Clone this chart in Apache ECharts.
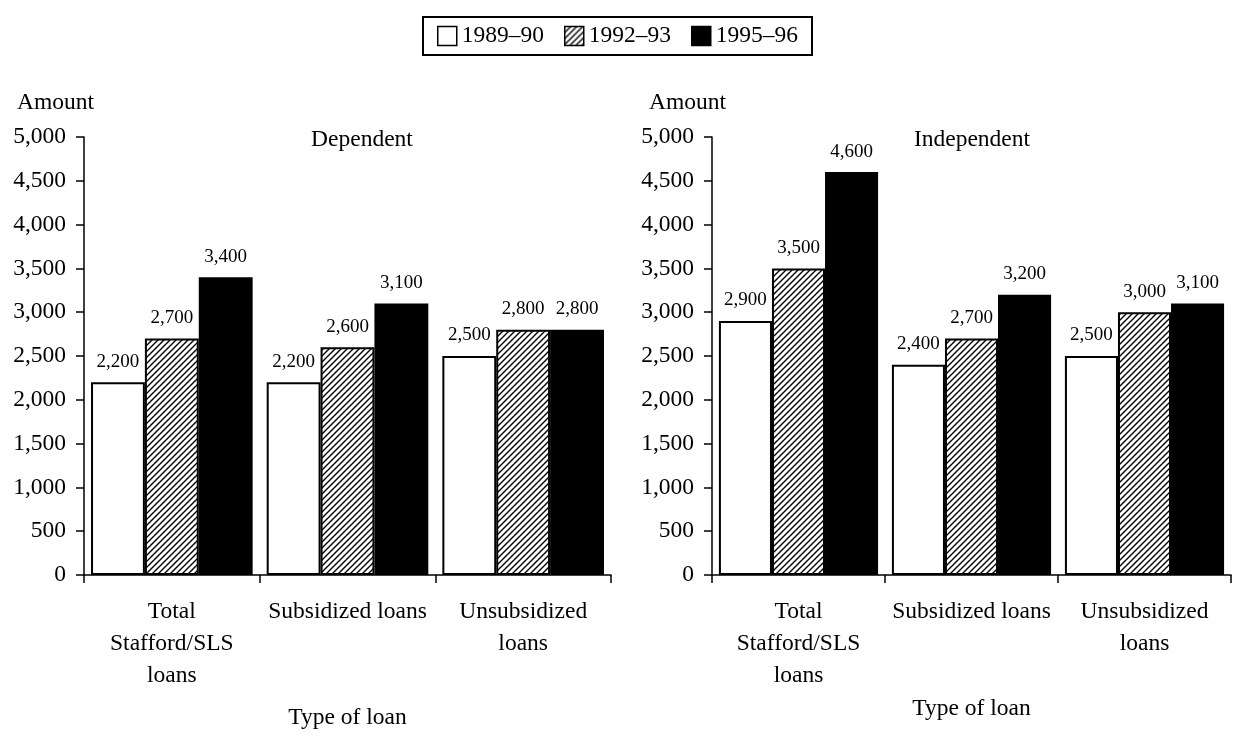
<!DOCTYPE html>
<html>
<head>
<meta charset="utf-8">
<script src="https://cdn.jsdelivr.net/npm/echarts@6/dist/echarts.min.js"></script>
<style>
  html, body { margin: 0; padding: 0; background: #fff; }
  #chart { width: 1235px; height: 747px; }
</style>
</head>
<body>
<div id="chart"></div>
<script>
  // categories and values
  var categories = ['Total\nStafford/SLS\nloans', 'Subsidized loans', 'Unsubsidized\nloans'];
  var years = ['1989\u201390', '1992\u201393', '1995\u201396'];
  var dep8990 = [2200, 2200, 2500];
  var dep9293 = [2700, 2600, 2800];
  var dep9596 = [3400, 3100, 2800];
  var ind8990 = [2900, 2400, 2500];
  var ind9293 = [3500, 2700, 3000];
  var ind9596 = [4600, 3200, 3100];
  var yTicks = [0, 500, 1000, 1500, 2000, 2500, 3000, 3500, 4000, 4500, 5000];

  var font = "'Liberation Serif', 'Times New Roman', serif";
  var fs = 23.5;

  // hatch pattern for the middle series
  function hatch() {
    var c = document.createElement('canvas');
    c.width = 6; c.height = 6;
    var ctx = c.getContext('2d');
    ctx.fillStyle = '#fff';
    ctx.fillRect(0, 0, 6, 6);
    ctx.strokeStyle = '#000';
    ctx.lineWidth = 1.4;
    ctx.beginPath();
    ctx.moveTo(-1, 7); ctx.lineTo(7, -1);
    ctx.moveTo(-1, 1); ctx.lineTo(1, -1);
    ctx.moveTo(5, 7); ctx.lineTo(7, 5);
    ctx.stroke();
    return c;
  }
  var fills = ['#fff', { image: hatch(), repeat: 'repeat' }, '#000'];

  function fmt(v) { return Number(v).toLocaleString('en-US'); }

  function xAxis(idx, nameGap) {
    return {
      type: 'category', gridIndex: idx, data: categories,
      name: 'Type of loan', nameLocation: 'middle', nameGap: nameGap,
      nameTextStyle: { fontFamily: font, fontSize: fs, color: '#000' },
      axisLine: { lineStyle: { color: '#000', width: 1.5 } },
      axisTick: { show: true, length: 8, lineStyle: { color: '#000', width: 1.5 } },
      axisLabel: { fontFamily: font, fontSize: fs, color: '#000', lineHeight: 32, margin: 21, interval: 0 }
    };
  }
  function yAxis(idx) {
    return {
      type: 'value', gridIndex: idx, min: yTicks[0], max: yTicks[yTicks.length - 1], interval: yTicks[1] - yTicks[0],
      axisLine: { show: true, lineStyle: { color: '#000', width: 1.5 } },
      axisTick: { show: true, length: 8, lineStyle: { color: '#000', width: 1.5 } },
      splitLine: { show: false },
      axisLabel: { fontFamily: font, fontSize: fs, color: '#000', margin: 18, formatter: fmt }
    };
  }
  function bar(name, data, idx, k) {
    return {
      name: name, type: 'bar', data: data,
      xAxisIndex: idx, yAxisIndex: idx,
      barGap: '0%', barCategoryGap: '8%',
      itemStyle: { color: fills[k], borderColor: '#000', borderWidth: 2 },
      label: {
        show: true, position: 'top', distance: 11,
        fontFamily: font, fontSize: 19, color: '#000',
        formatter: function (p) { return fmt(p.value); }
      }
    };
  }

  var titleStyle = { fontFamily: font, fontSize: fs, fontWeight: 'normal', color: '#000' };

  var myChart = echarts.init(document.getElementById('chart'));
  myChart.setOption({
    animation: false,
    backgroundColor: '#fff',
    title: [
      { text: 'Dependent', left: 357, top: 123, textAlign: 'center', textStyle: titleStyle },
      { text: 'Independent', left: 967, top: 123, textAlign: 'center', textStyle: titleStyle },
      { text: 'Amount', left: 12, top: 86, textStyle: titleStyle },
      { text: 'Amount', left: 644, top: 86, textStyle: titleStyle }
    ],
    legend: {
      top: 17, left: 'center',
      data: years,
      itemWidth: 19, itemHeight: 19, itemGap: 20,
      padding: [7, 14],
      borderColor: '#000', borderWidth: 2,
      textStyle: { fontFamily: font, fontSize: fs, color: '#000' },
      icon: 'rect',
      itemStyle: { borderColor: '#000', borderWidth: 1.5 }
    },
    grid: [
      { left: 84, top: 137, width: 527, height: 438 },
      { left: 712, top: 137, width: 519, height: 438 }
    ],
    xAxis: [xAxis(0, 131), xAxis(1, 121)],
    yAxis: [yAxis(0), yAxis(1)],
    series: [
      bar(years[0], dep8990, 0, 0),
      bar(years[1], dep9293, 0, 1),
      bar(years[2], dep9596, 0, 2),
      bar(years[0], ind8990, 1, 0),
      bar(years[1], ind9293, 1, 1),
      bar(years[2], ind9596, 1, 2)
    ]
  });
</script>
</body>
</html>
